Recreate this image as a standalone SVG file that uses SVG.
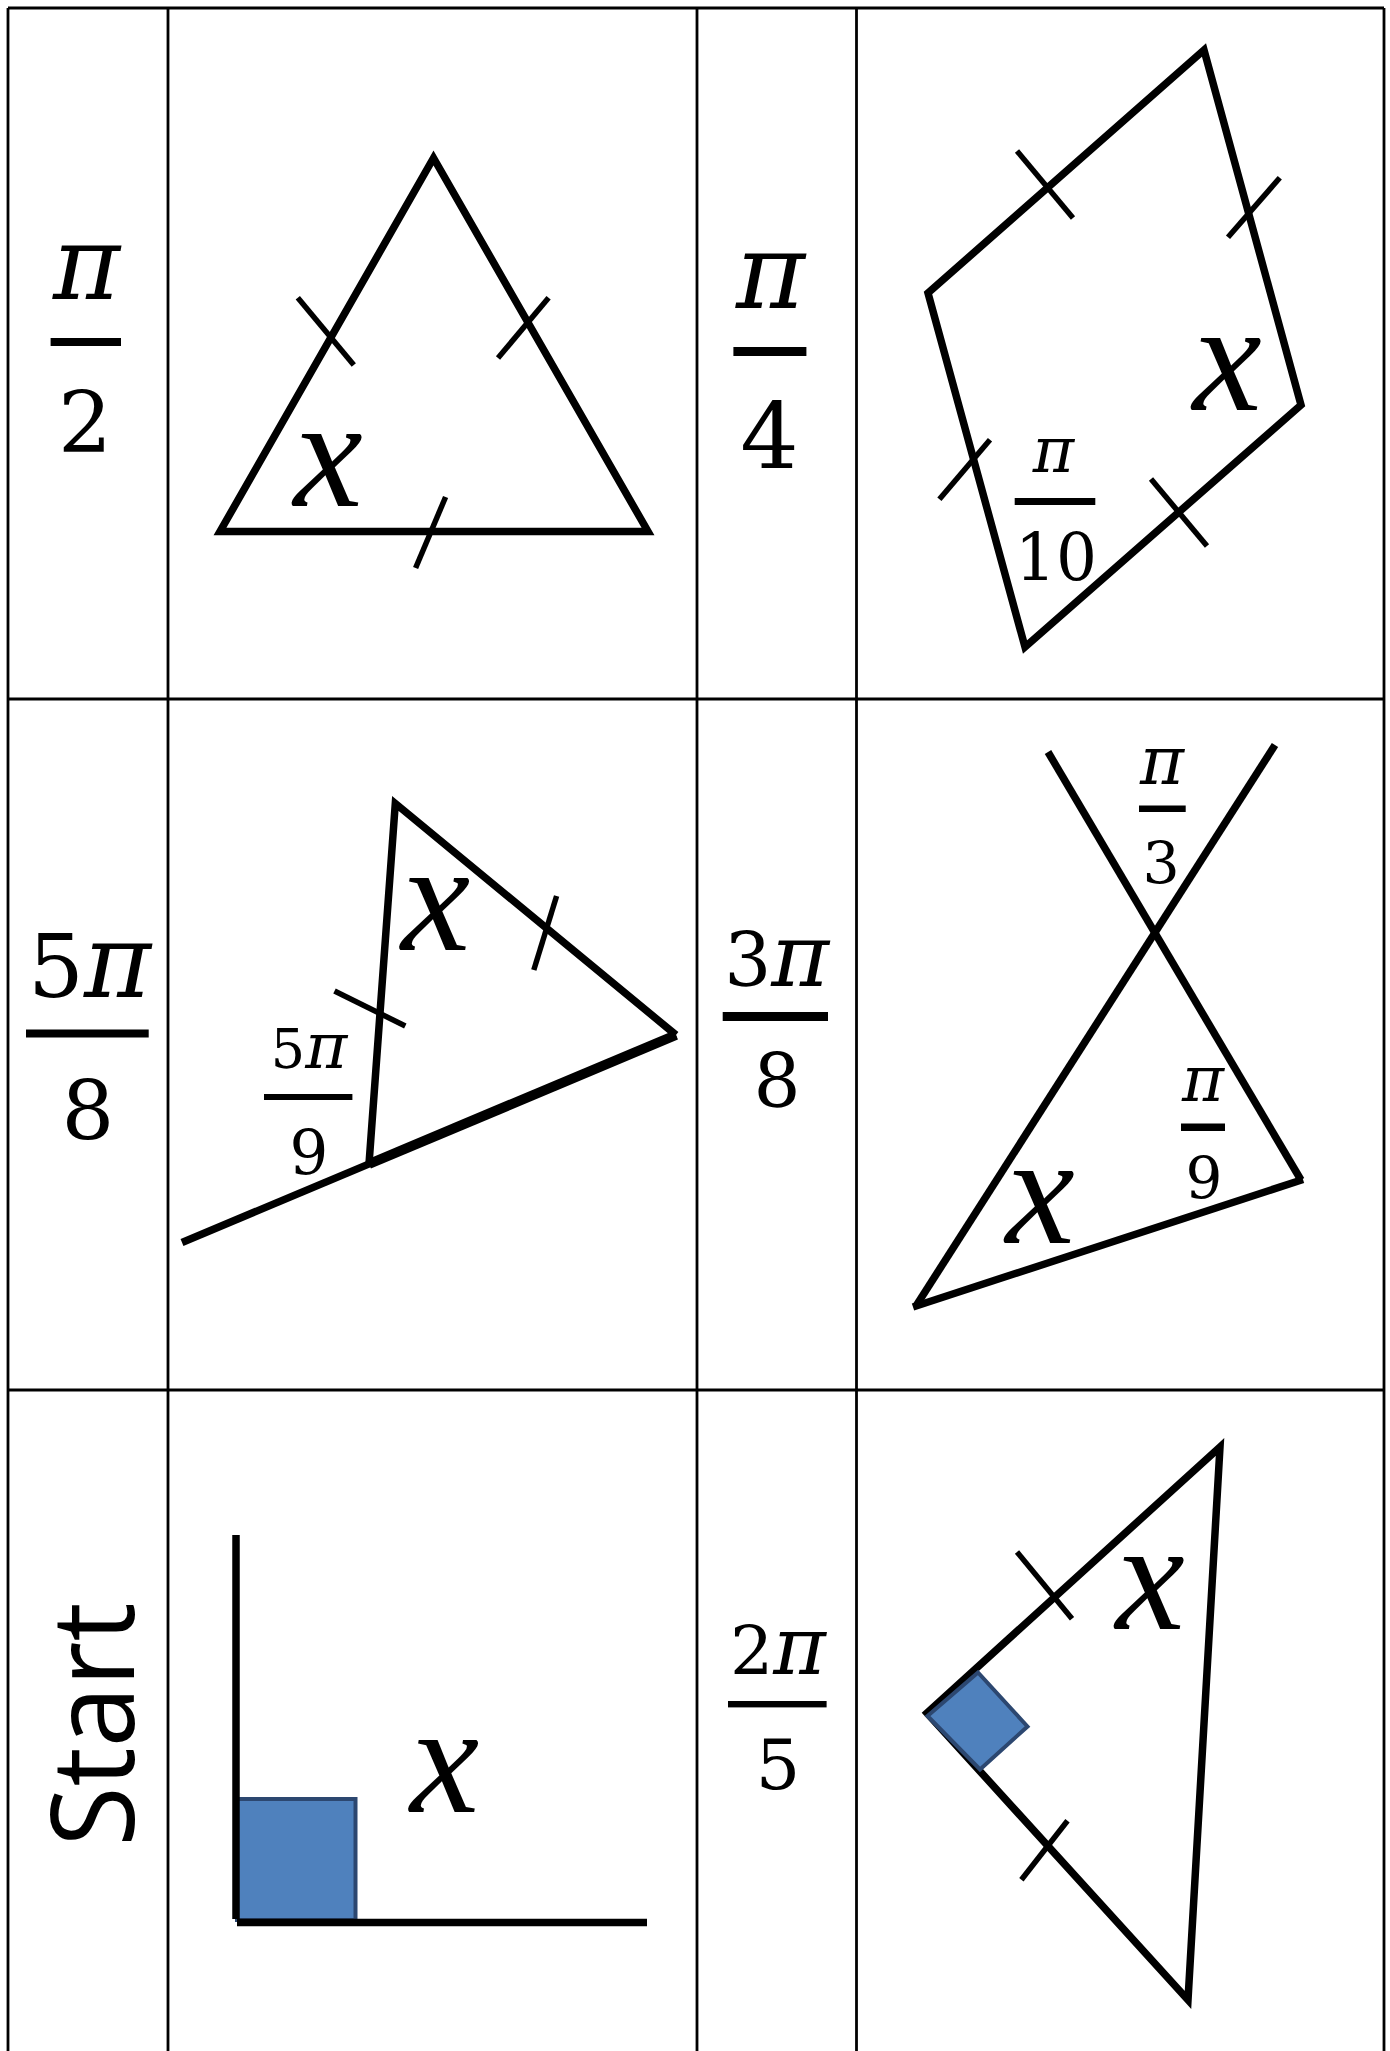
<svg xmlns="http://www.w3.org/2000/svg" width="1390" height="2051" viewBox="0 0 1390 2051">
<style>
.grid{stroke:#000;stroke-width:2.8;fill:none}
.shape{stroke:#000;stroke-width:7.5;fill:none;stroke-linejoin:miter;stroke-miterlimit:10}
.tick{stroke:#000;stroke-width:5.5;fill:none}
.num{font-family:"DejaVu Serif","Liberation Serif",serif;text-anchor:middle;fill:#000}
.pi{font-family:"DejaVu Serif","Liberation Serif",serif;font-style:italic}
.var{font-family:"Liberation Serif",serif;font-style:italic;text-anchor:middle;fill:#000;font-size:156px}
.bar{fill:#000}
.sq{fill:#4F81BD;stroke:#2C4770;stroke-width:4}
.start{font-family:"Open Sans","Noto Sans","Liberation Sans",sans-serif;font-size:115px;text-anchor:middle;fill:#000}
</style>
<rect width="1390" height="2051" fill="#fff"/>
<g id="grid">
<line class="grid" x1="8" y1="8" x2="1384" y2="8"/>
<line class="grid" x1="8" y1="699" x2="1384" y2="699"/>
<line class="grid" x1="8" y1="1390" x2="1384" y2="1390"/>
<line class="grid" x1="8" y1="8" x2="8" y2="2051"/>
<line class="grid" x1="168" y1="8" x2="168" y2="2051"/>
<line class="grid" x1="697" y1="8" x2="697" y2="2051"/>
<line class="grid" x1="856.5" y1="8" x2="856.5" y2="2051"/>
<line class="grid" x1="1384" y1="8" x2="1384" y2="2051"/>
</g>

<g id="label-pi-2">
<text class="num pi" x="86.5" y="299" font-size="102">π</text>
<rect class="bar" x="50.6" y="338" width="70.4" height="8"/>
<text class="num" x="85" y="452" font-size="85">2</text>
</g>
<g id="cell-triangle">
<polygon class="shape" points="433.5,158 220,531.5 648,531.5"/>
<line class="tick" x1="297.8" y1="297.8" x2="353.8" y2="365"/>
<line class="tick" x1="548.6" y1="297.8" x2="498" y2="358"/>
<line class="tick" x1="445.6" y1="497" x2="415.6" y2="568"/>
<text class="var" x="328" y="506">x</text>
</g>

<g id="label-pi-4">
<text class="num pi" x="770.5" y="308" font-size="105">π</text>
<rect class="bar" x="733.4" y="347" width="73" height="9"/>
<text class="num" x="769.5" y="468" font-size="92">4</text>
</g>
<g id="cell-rhombus">
<polygon class="shape" points="1204,50 928,293 1025,647 1301,405"/>
<line class="tick" x1="1017" y1="151" x2="1073" y2="218"/>
<line class="tick" x1="1279.8" y1="177.8" x2="1228" y2="237.3"/>
<line class="tick" x1="990" y1="439.8" x2="939.4" y2="499.3"/>
<line class="tick" x1="1151" y1="479" x2="1207" y2="546"/>
<text class="var" x="1227" y="410">x</text>
<text class="num pi" x="1053.5" y="472" font-size="63">π</text>
<rect class="bar" x="1014.7" y="498" width="80.6" height="7"/>
<text class="num" x="1056" y="580" font-size="64.5">10</text>
</g>

<g id="label-5pi-8">
<text class="num" x="89.5" y="997" font-size="88">5<tspan class="pi" font-size="102">π</tspan></text>
<rect class="bar" x="26" y="1029.5" width="122.7" height="8"/>
<text class="num" x="88" y="1140" font-size="83">8</text>
</g>
<g id="cell-exterior">
<line class="shape" x1="182" y1="1242.5" x2="676" y2="1035"/>
<line x1="369" y1="1164" x2="676" y2="1035" stroke="#000" stroke-width="10"/>
<polyline class="shape" points="369,1164 395.3,803.4 676,1035"/>
<line class="tick" x1="334.5" y1="991" x2="405.3" y2="1026"/>
<line class="tick" x1="556.6" y1="896" x2="533.8" y2="970"/>
<text class="var" x="435.5" y="950">x</text>
<text class="num" x="309" y="1068" font-size="54">5<tspan class="pi" font-size="64">π</tspan></text>
<rect class="bar" x="264" y="1094" width="88.4" height="6"/>
<text class="num" x="309" y="1173.6" font-size="61">9</text>
</g>

<g id="label-3pi-8">
<text class="num" x="776.7" y="985.6" font-size="74">3<tspan class="pi" font-size="88">π</tspan></text>
<rect class="bar" x="722.7" y="1012" width="105.3" height="9"/>
<text class="num" x="777" y="1107" font-size="74">8</text>
</g>
<g id="cell-cross">
<line class="shape" x1="1048" y1="752" x2="1301" y2="1180"/>
<line class="shape" x1="1275" y1="745" x2="916" y2="1306"/>
<line class="shape" x1="913" y1="1307" x2="1303" y2="1179.5"/>
<text class="num pi" x="1162" y="784" font-size="67">π</text>
<rect class="bar" x="1139" y="805.5" width="46.7" height="6.5"/>
<text class="num" x="1161" y="882.6" font-size="58.5">3</text>
<text class="num pi" x="1203" y="1101" font-size="64">π</text>
<rect class="bar" x="1181" y="1123.5" width="44" height="7.5"/>
<text class="num" x="1204" y="1198" font-size="58">9</text>
<text class="var" x="1040" y="1243">x</text>
</g>

<g id="label-start">
<text class="start" transform="translate(134,1724.5) rotate(-90)" x="0" y="0" textLength="244" lengthAdjust="spacingAndGlyphs">Start</text>
</g>
<g id="cell-right-angle">
<rect class="sq" x="237" y="1799" width="118.5" height="121"/>
<line class="shape" stroke-width="8" x1="236" y1="1535" x2="236" y2="1919"/>
<line class="shape" stroke-width="8" x1="237" y1="1922.6" x2="647" y2="1922.6"/>
<text class="var" x="444.5" y="1812">x</text>
</g>

<g id="label-2pi-5">
<text class="num" x="778" y="1674.4" font-size="68">2<tspan class="pi" font-size="80">π</tspan></text>
<rect class="bar" x="728" y="1701" width="98.6" height="6.4"/>
<text class="num" x="778" y="1788.6" font-size="70">5</text>
</g>
<g id="cell-right-triangle">
<polygon class="shape" points="1220,1447 927,1713 1188,2000"/>
<line class="tick" x1="1017" y1="1552" x2="1072" y2="1618.8"/>
<line class="tick" x1="1067.5" y1="1820.7" x2="1021.4" y2="1879.8"/>
<polygon class="sq" points="927.5,1716 978,1672.5 1027.5,1726.5 980,1769.5"/>
<text class="var" x="1150" y="1629">x</text>
</g>
</svg>
